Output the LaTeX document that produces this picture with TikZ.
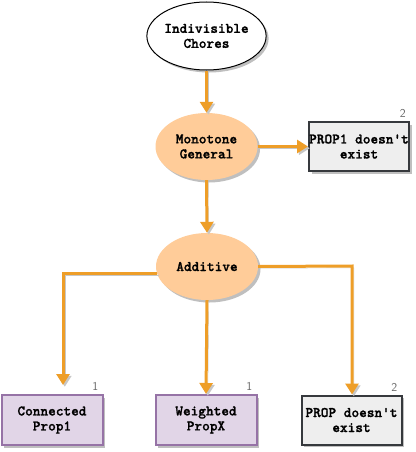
\documentclass[tikz,border=0pt]{standalone}
\usepackage{fontspec}
\newfontfamily\courb[FakeBold=1.2]{lmmonolt10-bold.otf}
\usetikzlibrary{arrows.meta,shadows,calc,shapes.geometric}
\definecolor{arr}{RGB}{238,158,40}
\definecolor{peach}{RGB}{255,204,153}
\definecolor{lilac}{RGB}{225,213,231}
\definecolor{lilacline}{RGB}{150,115,166}
\definecolor{greyfill}{RGB}{238,238,238}
\definecolor{greyline}{RGB}{54,57,61}
\tikzset{
  x=1pt,y=1pt,
  txt/.style={font=\courb\fontsize{14.6}{15}\selectfont, align=center, inner sep=0pt},
  shad/.style={drop shadow={shadow xshift=2.5pt,shadow yshift=-2.5pt,fill=black,opacity=0.25}},
  topell/.style={txt, ellipse, draw=black, line width=1pt, fill=white, minimum width=103pt, minimum height=68pt, shad},
  peachell/.style={txt, ellipse, fill=peach, minimum width=102pt, minimum height=67pt, shad},
  purplebox/.style={txt, rectangle, draw=lilacline, line width=2pt, fill=lilac, minimum width=101pt, minimum height=50pt, shad},
  greybox/.style={txt, rectangle, draw=greyline, line width=2pt, fill=greyfill, minimum width=100pt, minimum height=49pt, shad},
  conn/.style={draw=arr, line width=3pt, -{Triangle[width=13pt,length=11pt]},
    preaction={draw=black!22, transform canvas={shift={(1.8pt,-1.8pt)}}}},
  numlbl/.style={font=\sffamily\fontsize{12}{12}\selectfont, text=black!60, inner sep=0pt, anchor=south east}
}
\begin{document}
\begin{tikzpicture}
\useasboundingbox (0,0) rectangle (415,-452);
\node[topell] (ic) at (206.5,-36) {Indivisible\\Chores};
\node[peachell] (mg) at (206.5,-146.5) {Monotone\\General};
\node[greybox] (p1) at (359,-146.5) {PROP1 doesn't\\exist};
\node[peachell] (ad) at (207,-266.5) {Additive};
\node[purplebox] (cp) at (52,-420) {Connected\\Prop1};
\node[purplebox] (wp) at (206,-420) {Weighted\\PropX};
\node[greybox] (pd) at (351.5,-420) {PROP doesn't\\exist};
\node[numlbl] (l2a) at ($(p1.north east)+(-4,3)$) {2};
\node[numlbl] (l1a) at ($(cp.north east)+(-5,3)$) {1};
\node[numlbl] (l1b) at ($(wp.north east)+(-5,3)$) {1};
\node[numlbl] (l2b) at ($(pd.north east)+(-5,3)$) {2};
\coordinate (lcorner) at (63,-273);
\coordinate (rcorner) at (352,-266);
\draw[conn] (ic.south) -- (mg.north);
\draw[conn] (mg.east) -- (p1.west);
\draw[conn] (mg.south) -- (ad.north);
\draw[conn, shorten >=9pt] ($(ad.west)+(1,-6.5)$) -- (lcorner) -- (lcorner |- cp.north);
\draw[conn] (ad.south) -- (wp.north);
\draw[conn] (ad.east) -- (rcorner) -- (rcorner |- pd.north);
\end{tikzpicture}
\end{document}
